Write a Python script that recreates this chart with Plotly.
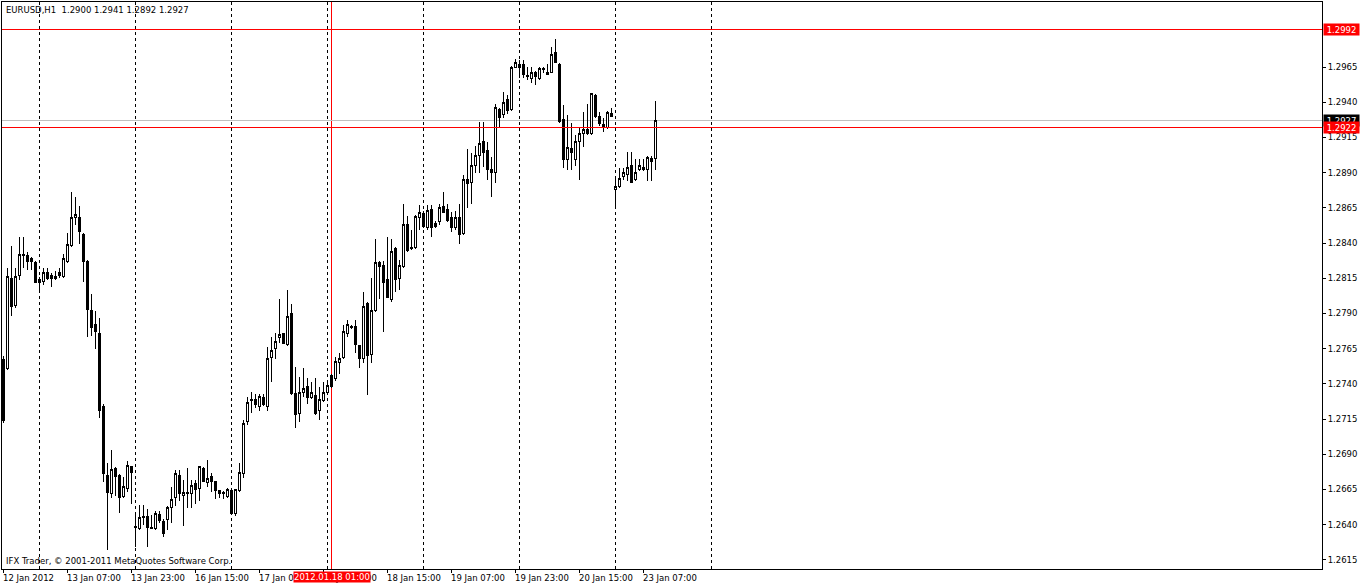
import plotly.graph_objects as go

header_text = "EURUSD,H1  1.2900 1.2941 1.2892 1.2927"
copyright_text = "IFX Trader, © 2001-2011 MetaQuotes Software Corp."

open_ = [1.2757, 1.2751, 1.2815, 1.2796, 1.2817, 1.2832, 1.2831, 1.2829, 1.2826, 1.2814,
         1.2813, 1.2819, 1.2817, 1.2815, 1.2819, 1.2816, 1.2827, 1.2838, 1.2858, 1.2858,
         1.2846, 1.2827, 1.2792, 1.2782, 1.2776, 1.2724, 1.2675, 1.2662, 1.2680, 1.2675,
         1.2660, 1.2666, 1.2681, 1.2638, 1.2637, 1.2646, 1.2646, 1.2638, 1.2637, 1.2647,
         1.2642, 1.2644, 1.2652, 1.2659, 1.2675, 1.2661, 1.2663, 1.2662, 1.2669, 1.2666,
         1.2680, 1.2670, 1.2674, 1.2671, 1.2664, 1.2663, 1.2660, 1.2664, 1.2648, 1.2664,
         1.2676, 1.2713, 1.2728, 1.2729, 1.2724, 1.2730, 1.2724, 1.2759, 1.2765, 1.2773,
         1.2776, 1.2768, 1.2790, 1.2733, 1.2719, 1.2734, 1.2738, 1.2730, 1.2732, 1.2721,
         1.2728, 1.2734, 1.2746, 1.2744, 1.2755, 1.2759, 1.2776, 1.2781, 1.2781, 1.2767,
         1.2758, 1.2797, 1.2761, 1.2792, 1.2826, 1.2824, 1.2814, 1.2800, 1.2836, 1.2815,
         1.2823, 1.2853, 1.2837, 1.2837, 1.2858, 1.2861, 1.2851, 1.2864, 1.2854, 1.2855,
         1.2866, 1.2864, 1.2858, 1.2851, 1.2858, 1.2847, 1.2885, 1.2883, 1.2895, 1.2902,
         1.2912, 1.2906, 1.2892, 1.2890, 1.2935, 1.2931, 1.2942, 1.2935, 1.2965, 1.2967,
         1.2967, 1.2959, 1.2957, 1.2961, 1.2957, 1.2964, 1.2960, 1.2961, 1.2975, 1.2967,
         1.2928, 1.2899, 1.2907, 1.2899, 1.2912, 1.2918, 1.2921, 1.2918, 1.2945, 1.2930,
         1.2924, 1.2922, 1.2932, 1.2878, 1.2880, 1.2887, 1.2889, 1.2895, 1.2885, 1.2892,
         1.2894, 1.2892, 1.2900, 1.2900]

high = [1.2760, 1.2822, 1.2838, 1.2822, 1.2844, 1.2844, 1.2834, 1.2830, 1.2827, 1.2816,
        1.2822, 1.2822, 1.2819, 1.2820, 1.2822, 1.2832, 1.2847, 1.2876, 1.2873, 1.2866,
        1.2847, 1.2828, 1.2804, 1.2792, 1.2787, 1.2726, 1.2684, 1.2693, 1.2681, 1.2676,
        1.2674, 1.2685, 1.2682, 1.2648, 1.2654, 1.2654, 1.2651, 1.2647, 1.2650, 1.2650,
        1.2644, 1.2653, 1.2667, 1.2679, 1.2679, 1.2672, 1.2680, 1.2672, 1.2672, 1.2681,
        1.2681, 1.2686, 1.2677, 1.2671, 1.2664, 1.2664, 1.2666, 1.2666, 1.2665, 1.2684,
        1.2714, 1.2731, 1.2734, 1.2733, 1.2733, 1.2733, 1.2766, 1.2773, 1.2776, 1.2800,
        1.2776, 1.2807, 1.2797, 1.2752, 1.2745, 1.2751, 1.2744, 1.2741, 1.2744, 1.2738,
        1.2741, 1.2741, 1.2747, 1.2759, 1.2762, 1.2782, 1.2785, 1.2782, 1.2785, 1.2767,
        1.2805, 1.2798, 1.2815, 1.2843, 1.2827, 1.2827, 1.2844, 1.2843, 1.2837, 1.2828,
        1.2868, 1.2859, 1.2849, 1.2860, 1.2867, 1.2863, 1.2867, 1.2867, 1.2856, 1.2868,
        1.2876, 1.2868, 1.2862, 1.2863, 1.2868, 1.2888, 1.2907, 1.2904, 1.2909, 1.2926,
        1.2926, 1.2912, 1.2901, 1.2939, 1.2936, 1.2947, 1.2945, 1.2966, 1.2971, 1.2970,
        1.2970, 1.2965, 1.2965, 1.2962, 1.2965, 1.2965, 1.2967, 1.2979, 1.2985, 1.2968,
        1.2938, 1.2931, 1.2925, 1.2917, 1.2922, 1.2933, 1.2939, 1.2946, 1.2946, 1.2933,
        1.2929, 1.2934, 1.2936, 1.2887, 1.2893, 1.2893, 1.2905, 1.2905, 1.2900, 1.2900,
        1.2900, 1.2902, 1.2902, 1.2941]

low = [1.2712, 1.2750, 1.2788, 1.2794, 1.2814, 1.2822, 1.2821, 1.2821, 1.2812, 1.2805,
       1.2810, 1.2814, 1.2809, 1.2814, 1.2815, 1.2815, 1.2826, 1.2837, 1.2853, 1.2839,
       1.2812, 1.2773, 1.2774, 1.2765, 1.2716, 1.2670, 1.2622, 1.2659, 1.2660, 1.2648,
       1.2659, 1.2663, 1.2655, 1.2624, 1.2636, 1.2640, 1.2624, 1.2637, 1.2636, 1.2641,
       1.2631, 1.2636, 1.2641, 1.2653, 1.2657, 1.2639, 1.2652, 1.2652, 1.2655, 1.2657,
       1.2671, 1.2667, 1.2663, 1.2658, 1.2659, 1.2658, 1.2659, 1.2647, 1.2646, 1.2663,
       1.2673, 1.2711, 1.2719, 1.2723, 1.2721, 1.2724, 1.2721, 1.2741, 1.2758, 1.2769,
       1.2768, 1.2767, 1.2732, 1.2709, 1.2713, 1.2731, 1.2726, 1.2729, 1.2718, 1.2714,
       1.2727, 1.2732, 1.2737, 1.2742, 1.2747, 1.2758, 1.2773, 1.2779, 1.2762, 1.2751,
       1.2755, 1.2732, 1.2755, 1.2791, 1.2800, 1.2777, 1.2801, 1.2798, 1.2805, 1.2807,
       1.2822, 1.2834, 1.2835, 1.2836, 1.2849, 1.2851, 1.2849, 1.2844, 1.2851, 1.2853,
       1.2861, 1.2855, 1.2848, 1.2849, 1.2839, 1.2846, 1.2865, 1.2868, 1.2890, 1.2890,
       1.2894, 1.2885, 1.2873, 1.2883, 1.2922, 1.2929, 1.2932, 1.2934, 1.2964, 1.2957,
       1.2957, 1.2956, 1.2954, 1.2952, 1.2956, 1.2961, 1.2960, 1.2961, 1.2968, 1.2925,
       1.2893, 1.2892, 1.2892, 1.2895, 1.2885, 1.2908, 1.2917, 1.2917, 1.2929, 1.2923,
       1.2919, 1.2921, 1.2930, 1.2865, 1.2879, 1.2885, 1.2884, 1.2883, 1.2884, 1.2891,
       1.2891, 1.2884, 1.2884, 1.2892]

close = [1.2714, 1.2816, 1.2795, 1.2816, 1.2832, 1.2831, 1.2827, 1.2827, 1.2812, 1.2812,
         1.2819, 1.2815, 1.2815, 1.2816, 1.2817, 1.2829, 1.2839, 1.2858, 1.2860, 1.2848,
         1.2827, 1.2793, 1.2780, 1.2777, 1.2721, 1.2676, 1.2663, 1.2679, 1.2674, 1.2659,
         1.2667, 1.2682, 1.2677, 1.2639, 1.2645, 1.2645, 1.2638, 1.2637, 1.2648, 1.2643,
         1.2634, 1.2652, 1.2658, 1.2676, 1.2662, 1.2663, 1.2662, 1.2668, 1.2665, 1.2681,
         1.2671, 1.2673, 1.2671, 1.2664, 1.2662, 1.2662, 1.2665, 1.2648, 1.2665, 1.2677,
         1.2712, 1.2727, 1.2729, 1.2725, 1.2731, 1.2725, 1.2758, 1.2764, 1.2770, 1.2775,
         1.2769, 1.2788, 1.2733, 1.2718, 1.2734, 1.2737, 1.2730, 1.2734, 1.2719, 1.2729,
         1.2734, 1.2739, 1.2738, 1.2756, 1.2758, 1.2777, 1.2782, 1.2780, 1.2768, 1.2758,
         1.2795, 1.2760, 1.2792, 1.2826, 1.2823, 1.2812, 1.2801, 1.2834, 1.2814, 1.2824,
         1.2853, 1.2835, 1.2836, 1.2859, 1.2862, 1.2852, 1.2863, 1.2851, 1.2852, 1.2865,
         1.2862, 1.2856, 1.2851, 1.2858, 1.2846, 1.2885, 1.2882, 1.2895, 1.2902, 1.2911,
         1.2904, 1.2892, 1.2890, 1.2936, 1.2929, 1.2940, 1.2934, 1.2965, 1.2968, 1.2965,
         1.2960, 1.2958, 1.2961, 1.2958, 1.2964, 1.2963, 1.2961, 1.2974, 1.2968, 1.2926,
         1.2899, 1.2908, 1.2904, 1.2912, 1.2918, 1.2921, 1.2918, 1.2946, 1.2930, 1.2925,
         1.2922, 1.2933, 1.2930, 1.2880, 1.2886, 1.2890, 1.2894, 1.2883, 1.2890, 1.2895,
         1.2892, 1.2901, 1.2898, 1.2927]

bar_index = list(range(len(open_)))

price_ticks = [1.2615, 1.2640, 1.2665, 1.2690, 1.2715, 1.2740, 1.2765, 1.2790,
               1.2815, 1.2840, 1.2865, 1.2890, 1.2915, 1.2940, 1.2965]

time_tick_bars = [0, 16, 32, 48, 64, 80, 96, 112, 128, 144, 160]
time_tick_labels = ["12 Jan 2012", "13 Jan 07:00", "13 Jan 23:00", "16 Jan 15:00",
                    "17 Jan 07:00", "17 Jan 23:00", "18 Jan 15:00", "19 Jan 07:00",
                    "19 Jan 23:00", "20 Jan 15:00", "23 Jan 07:00"]

day_separator_bars = [9, 33, 57, 81, 105, 129, 153, 177]
marker_bar = 82
marker_label = "2012.01.18 01:00"

level_red_top = 1.2992
level_bid = 1.2927
level_red = 1.2922

FONT = "DejaVu Sans, Tahoma, Liberation Sans, sans-serif"
FS = 8.5

fig = go.Figure()
fig.add_trace(go.Candlestick(
    x=bar_index, open=open_, high=high, low=low, close=close,
    increasing=dict(line=dict(color="black", width=1), fillcolor="white"),
    decreasing=dict(line=dict(color="black", width=1), fillcolor="black"),
    whiskerwidth=0, hoverinfo="skip", showlegend=False,
))

shapes = []
for b in day_separator_bars:
    shapes.append(dict(type="line", xref="x", yref="paper", x0=b, x1=b, y0=0, y1=1,
                       line=dict(color="black", width=1, dash="3px,3px"), layer="below"))
shapes.append(dict(type="line", xref="x", yref="paper", x0=marker_bar, x1=marker_bar, y0=0, y1=1,
                   line=dict(color="red", width=1), layer="below"))
shapes.append(dict(type="line", xref="paper", yref="y", x0=0, x1=1, y0=level_red_top, y1=level_red_top,
                   line=dict(color="red", width=1), layer="below"))
shapes.append(dict(type="line", xref="paper", yref="y", x0=0, x1=1, y0=level_bid, y1=level_bid,
                   line=dict(color="#c0c0c0", width=1), layer="below"))
shapes.append(dict(type="line", xref="paper", yref="y", x0=0, x1=1, y0=level_red, y1=level_red,
                   line=dict(color="red", width=1), layer="above"))

annotations = []
annotations.append(dict(text=header_text, xref="paper", yref="paper", x=0, y=1,
                        xanchor="left", yanchor="top", xshift=2, yshift=-1, showarrow=False,
                        font=dict(family=FONT, size=FS, color="black")))
annotations.append(dict(text=copyright_text, xref="paper", yref="paper", x=0, y=0,
                        xanchor="left", yanchor="bottom", xshift=2, yshift=1, showarrow=False,
                        font=dict(family=FONT, size=FS, color="black")))
for b, lab in zip(time_tick_bars, time_tick_labels):
    annotations.append(dict(text=lab, xref="x", yref="paper", x=b, y=0,
                            xanchor="left", yanchor="top", xshift=-3, yshift=-2, showarrow=False,
                            font=dict(family=FONT, size=FS, color="black")))
annotations.append(dict(text=marker_label, xref="x", yref="paper", x=marker_bar, y=0,
                        xanchor="center", yanchor="top", yshift=-2, showarrow=False,
                        bgcolor="red", borderpad=0,
                        font=dict(family=FONT, size=FS, color="white")))
for lv, col in [(level_red_top, "red"), (level_bid, "black"), (level_red, "red")]:
    annotations.append(dict(text=f"{lv:.4f}", xref="paper", yref="y", x=1, y=lv,
                            xanchor="left", yanchor="middle", xshift=1, showarrow=False,
                            bgcolor=col, borderpad=0, width=35, height=11,
                            font=dict(family=FONT, size=FS, color="white")))

fig.update_layout(
    width=1360, height=586,
    margin=dict(l=2, r=38, t=2, b=17, autoexpand=False),
    paper_bgcolor="white", plot_bgcolor="white",
    boxgap=0.5,
    shapes=shapes, annotations=annotations,
    showlegend=False,
    xaxis=dict(range=[-0.375, 329.625], showgrid=False, zeroline=False,
               showline=True, mirror=True, linecolor="black", linewidth=1,
               ticks="outside", ticklen=3, tickcolor="black",
               tickvals=time_tick_bars, showticklabels=False,
               rangeslider=dict(visible=False), fixedrange=True),
    yaxis=dict(range=[1.26085, 1.30112], side="right", showgrid=False, zeroline=False,
               showline=True, mirror=True, linecolor="black", linewidth=1,
               ticks="outside", ticklen=3, tickcolor="black",
               tickvals=price_ticks, ticktext=[f"{p:.4f}" for p in price_ticks],
               tickfont=dict(family=FONT, size=FS, color="black"), fixedrange=True),
)

post = (
    "document.body.style.margin='0px';"
    "document.body.style.overflow='hidden';"
    "document.querySelectorAll('.trace path, .shapelayer path').forEach(function(p){"
    "p.style.shapeRendering='crispEdges';});"
)

fig.write_html("out.html", config={"displayModeBar": False}, post_script=post)
